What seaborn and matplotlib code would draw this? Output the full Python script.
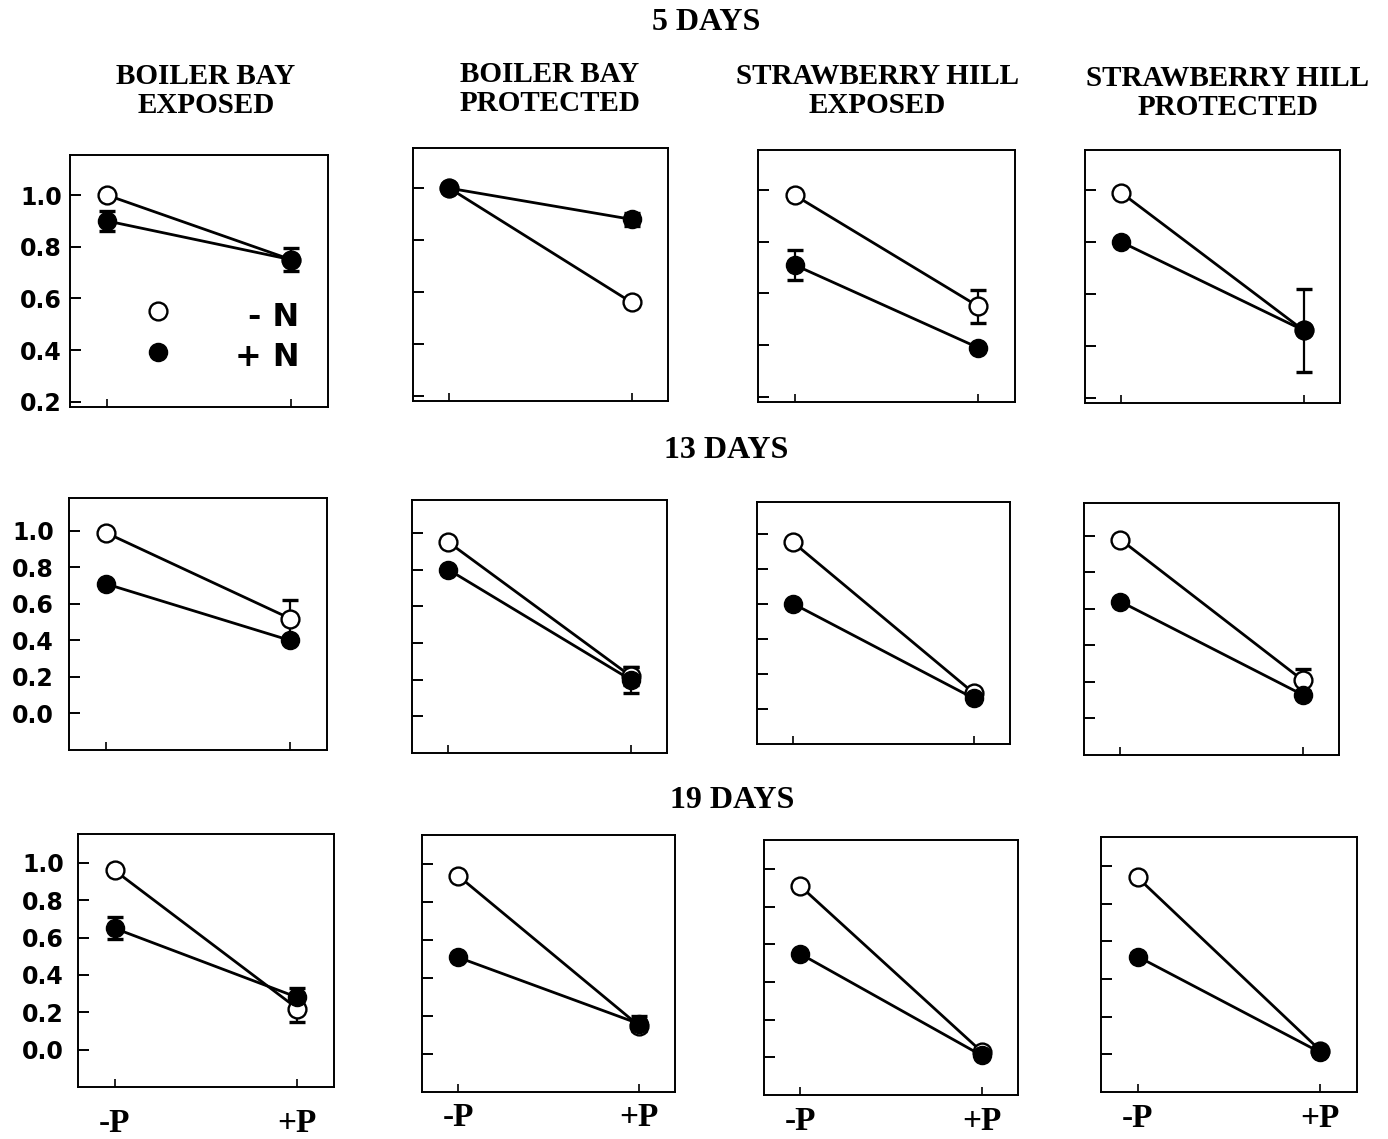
import numpy as np
import pandas as pd
import matplotlib
matplotlib.use("Agg")
import matplotlib.pyplot as plt
import seaborn as sns

sns.set_style("white")
plt.rcParams['font.family'] = ['DejaVu Sans']
plt.rcParams['text.color'] = 'black'
plt.rcParams['xtick.color'] = 'black'
plt.rcParams['ytick.color'] = 'black'
plt.rcParams['axes.labelcolor'] = 'black'

# ---------------- data ----------------
days = ["5 DAYS", "13 DAYS", "19 DAYS"]
sites = ["BOILER BAY\nEXPOSED", "BOILER BAY\nPROTECTED",
         "STRAWBERRY HILL\nEXPOSED", "STRAWBERRY HILL\nPROTECTED"]
p_levels = ["-P", "+P"]
n_levels = ["-N", "+N"]

# values [day][site] -> (-P, +P)
minusN = [
    [[1.00, 0.75], [1.00, 0.56], [0.98, 0.55], [0.99, 0.46]],
    [[0.99, 0.52], [0.95, 0.22], [0.95, 0.09], [0.98, 0.21]],
    [[0.96, 0.22], [0.94, 0.15], [0.91, 0.03], [0.94, 0.02]],
]
minusN_err = [
    [[0.00, 0.00], [0.00, 0.00], [0.00, 0.065], [0.00, 0.00]],
    [[0.00, 0.10], [0.00, 0.05], [0.00, 0.00], [0.00, 0.06]],
    [[0.00, 0.07], [0.00, 0.00], [0.00, 0.00], [0.00, 0.00]],
]
plusN = [
    [[0.90, 0.75], [1.00, 0.88], [0.71, 0.39], [0.80, 0.46]],
    [[0.71, 0.40], [0.80, 0.20], [0.60, 0.06], [0.64, 0.13]],
    [[0.65, 0.28], [0.51, 0.16], [0.55, 0.01], [0.52, 0.01]],
]
plusN_err = [
    [[0.04, 0.045], [0.015, 0.025], [0.058, 0.01], [0.00, 0.16]],
    [[0.015, 0.01], [0.00, 0.07], [0.00, 0.00], [0.00, 0.00]],
    [[0.06, 0.05], [0.00, 0.04], [0.00, 0.00], [0.02, 0.00]],
]

rows = []
for d_i, d in enumerate(days):
    for s_i, s in enumerate(sites):
        for p_i, p in enumerate(p_levels):
            rows.append(dict(day=d, site=s, N="-N", P=p, x=p_i,
                             value=minusN[d_i][s_i][p_i], err=minusN_err[d_i][s_i][p_i]))
            rows.append(dict(day=d, site=s, N="+N", P=p, x=p_i,
                             value=plusN[d_i][s_i][p_i], err=plusN_err[d_i][s_i][p_i]))
df = pd.DataFrame(rows)

# ---------------- layout ----------------
W, H = 1388, 1139
fig = plt.figure(figsize=(W / 100, H / 100), dpi=100)
fig.patch.set_facecolor("white")

# panel boxes in pixels: (left, right, top, bottom)
boxes = [
    [(70, 328, 155, 407), (413, 668, 148, 401), (758, 1015, 150, 402), (1085, 1340, 150, 403)],
    [(69, 327, 498, 750), (412, 667, 500, 753), (757, 1010, 502, 744), (1084, 1339, 503, 755)],
    [(78, 334, 834, 1087), (422, 675, 835, 1092), (764, 1018, 840, 1095), (1101, 1357, 837, 1092)],
]
ylims = [(0.18, 1.155), (-0.2, 1.18), (-0.2, 1.155)]
yticks = [[0.2, 0.4, 0.6, 0.8, 1.0], [0.0, 0.2, 0.4, 0.6, 0.8, 1.0], [0.0, 0.2, 0.4, 0.6, 0.8, 1.0]]
ypads = [6, 11, 10]
xpads = [15, 7, 8, 8]

serif = ['Liberation Serif', 'DejaVu Serif']
sans = ['DejaVu Sans']

for r, d in enumerate(days):
    for c, s in enumerate(sites):
        l, rr, t, b = boxes[r][c]
        ax = fig.add_axes([l / W, 1 - b / H, (rr - l) / W, (b - t) / H])
        sub = df[(df.day == d) & (df.site == s)]
        for n in n_levels:
            sn = sub[sub.N == n]
            sns.lineplot(data=sn, x="x", y="value", color="black", linewidth=2.0,
                         estimator=None, legend=False, ax=ax, zorder=2)
        for n in n_levels:
            sn = sub[(sub.N == n) & (sub.err > 0)]
            if len(sn):
                ax.errorbar(sn["x"], sn["value"], yerr=sn["err"], fmt="none",
                            ecolor="black", elinewidth=1.6, capsize=6, capthick=2.4,
                            zorder=2.5)
        sns.scatterplot(data=sub[sub.N == "-N"], x="x", y="value", color="white",
                        edgecolor="black", linewidth=1.7, s=165, legend=False,
                        ax=ax, zorder=3)
        sns.scatterplot(data=sub[sub.N == "+N"], x="x", y="value", color="black",
                        edgecolor="black", linewidth=1.0, s=170, legend=False,
                        ax=ax, zorder=4)

        ax.set_xlim(-0.2, 1.2)
        ax.set_ylim(*ylims[r])
        ax.set_yticks(yticks[r])
        ax.set_xticks([0, 1])
        ax.set_xlabel("")
        ax.set_ylabel("")
        for sp in ax.spines.values():
            sp.set_visible(True)
            sp.set_color("black")
            sp.set_linewidth(1.4)
        ax.tick_params(axis="y", direction="in", length=8, width=1.4, left=True,
                       pad=ypads[r])
        ax.tick_params(axis="x", direction="in", length=6, width=1.2, bottom=True,
                       pad=xpads[c])
        if c == 0:
            ax.set_yticklabels([f"{v:.1f}" for v in yticks[r]],
                               fontfamily=sans, fontweight="bold", fontsize=17)
        else:
            ax.set_yticklabels([])
        if r == 2:
            ax.set_xticklabels(p_levels, fontfamily=serif, fontweight="bold", fontsize=24)
        else:
            ax.set_xticklabels([])

        # legend in first panel
        if r == 0 and c == 0:
            ax.scatter([0.341], [0.381], transform=ax.transAxes, s=165, color="white",
                       edgecolor="black", linewidth=1.7, zorder=5)
            ax.scatter([0.341], [0.218], transform=ax.transAxes, s=170, color="black",
                       edgecolor="black", linewidth=1.0, zorder=5)
            ax.text(0.89, 0.355, "- N", transform=ax.transAxes, ha="right", va="center",
                    fontfamily=sans, fontweight="bold", fontsize=23)
            ax.text(0.89, 0.198, "+ N", transform=ax.transAxes, ha="right", va="center",
                    fontfamily=sans, fontweight="bold", fontsize=23)

# row titles
fig.text(706 / W, 1 - 22 / H, days[0], ha="center", va="center",
         fontfamily=serif, fontweight="bold", fontsize=23)
fig.text(726 / W, 1 - 450 / H, days[1], ha="center", va="center",
         fontfamily=serif, fontweight="bold", fontsize=23)
fig.text(732 / W, 1 - 800 / H, days[2], ha="center", va="center",
         fontfamily=serif, fontweight="bold", fontsize=23)

# column headers
hdr_x = [206, 550, 877, 1228]
hdr_y = [91, 89, 91, 93]
for x, y, s in zip(hdr_x, hdr_y, sites):
    fig.text(x / W, 1 - y / H, s, ha="center", va="center", linespacing=1.05,
             fontfamily=serif, fontweight="bold", fontsize=21)

fig.savefig("out.png", dpi=100, facecolor="white")
